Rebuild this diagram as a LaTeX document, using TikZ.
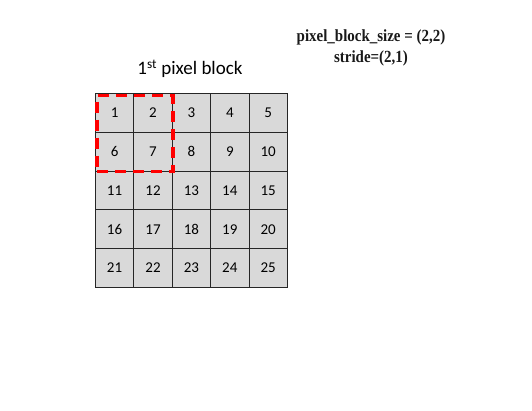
\documentclass[tikz,border=0pt]{standalone}
\usepackage{fontspec}
\usepackage{graphicx}
\setmainfont{Carlito}
\newfontfamily\timesfont{Liberation Serif}
\definecolor{cellgray}{HTML}{D9D9D9}
\definecolor{blockred}{HTML}{FF0000}
\newcommand{\narrowtitle}[1]{\scalebox{0.88}[1]{#1}}
\begin{document}
\begin{tikzpicture}[x=1pt,y=-1pt,
  cell/.style={draw=black!85, fill=cellgray, line width=0.8pt, minimum width=38.4pt, minimum height=38.8pt, inner sep=0pt, anchor=north west, font=\fontsize{15}{17}\selectfont},
  blockbox/.style={draw=blockred, line width=3.5pt, dash pattern=on 11pt off 7pt},
  title/.style={font=\timesfont\bfseries\fontsize{17}{19}\selectfont, text=black!90},
  caption/.style={font=\fontsize{19}{21}\selectfont}]
\useasboundingbox (0,0) rectangle (532,411);
\foreach \r in {0,...,4}{
  \foreach \c in {0,...,4}{
    \pgfmathtruncatemacro{\n}{\r*5+\c+1}
    \node[cell] (c\n) at (95+\c*38.4, 93+\r*38.8) {\n};
  }
}
\node[blockbox, anchor=north west, minimum width=76pt, minimum height=76pt, inner sep=0pt] (blk) at (95,94) {};
\node[caption] (cap) at (190,69) {1\textsuperscript{st} pixel block};
\node[title] (t1) at (371,37) {\narrowtitle{pixel\_block\_size = (2,2)}};
\node[title] (t2) at (371,58) {\narrowtitle{stride=(2,1)}};
\end{tikzpicture}
\end{document}
